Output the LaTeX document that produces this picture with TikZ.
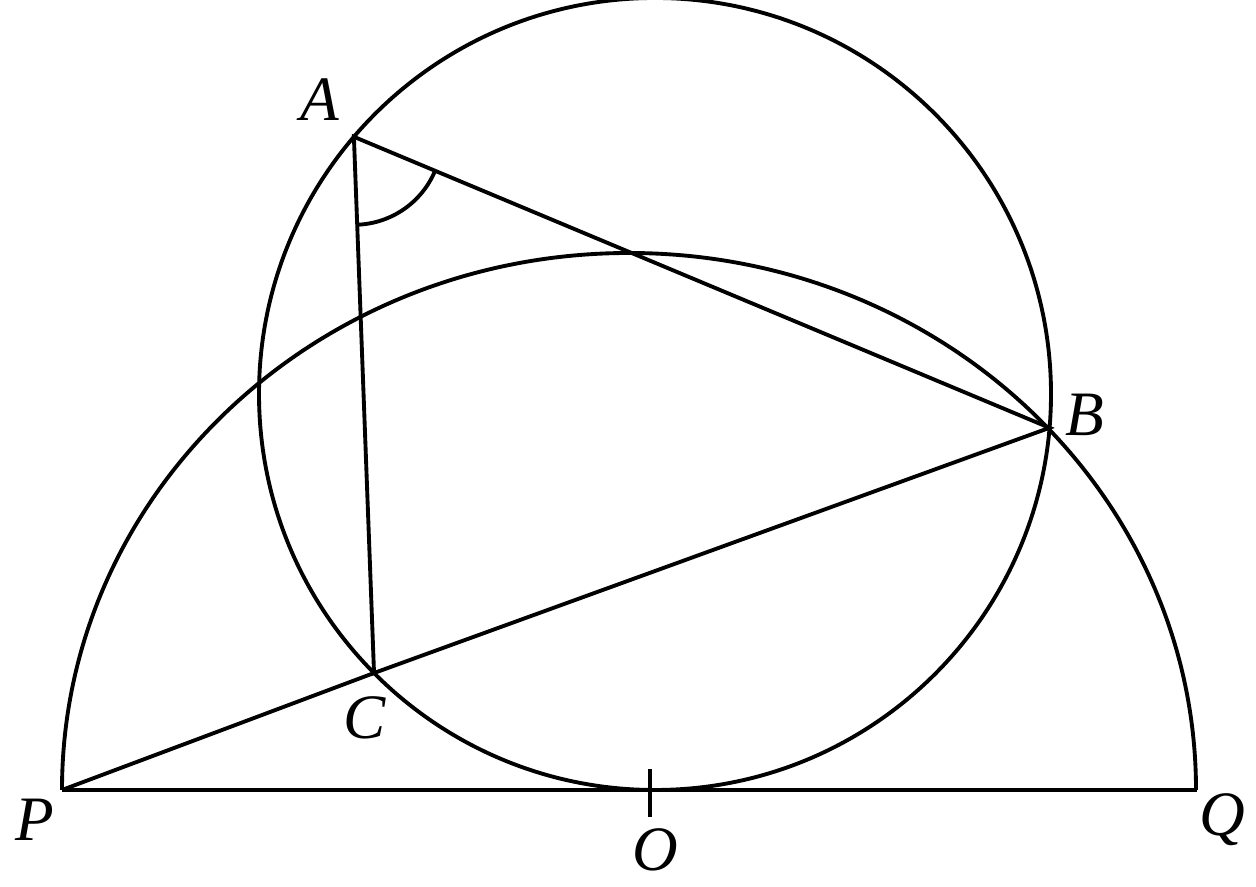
\documentclass[tikz,border=0pt]{standalone}
\usepackage{fontspec}
\setmainfont{Liberation Serif}
\usetikzlibrary{calc}

\begin{document}
\begin{tikzpicture}[line width=1.1pt,
    lbl/.style={font=\fontsize{18}{20}\selectfont\itshape, inner sep=0pt}]
  \useasboundingbox (0,0) rectangle (12.56,8.87);

  \coordinate (P) at (0.62,0.97);
  \coordinate (Q) at (11.97,0.97);
  \coordinate (O) at (6.50,0.97);
  \coordinate (M) at (6.55,4.93); % centre of the small circle
  \coordinate (A) at ($(M)+(139.5:3.96)$);
  \coordinate (B) at ($(M)+(-4.9:3.96)$);
  \coordinate (C) at ($(M)+(224.8:3.96)$);

  % circle and semicircle
  \draw (M) circle (3.96);
  \draw (P) arc[start angle=180, end angle=0, x radius=5.67, y radius=5.37];
  \draw (P) -- (Q);
  \draw ($(O)+(0,0.21)$) -- ($(O)+(0,-0.27)$);

  % triangle and line through P
  \draw (A) -- (B) -- (C) -- cycle;
  \draw (P) -- (C);

  % angle at A
  \draw ($(A)+(-87.5:0.88)$) arc[start angle=-87.5, end angle=-22.8, radius=0.88];

  \node[lbl] (lA) at (3.20,7.87) {A};
  \node[lbl] (lB) at (10.85,4.72) {B};
  \node[lbl] (lC) at (3.65,1.69) {C};
  \node[lbl] (lP) at (0.35,0.67) {P};
  \node[lbl] (lO) at (6.55,0.37) {O};
  \node[lbl] (lQ) at (12.22,0.67) {Q};
\end{tikzpicture}
\end{document}
